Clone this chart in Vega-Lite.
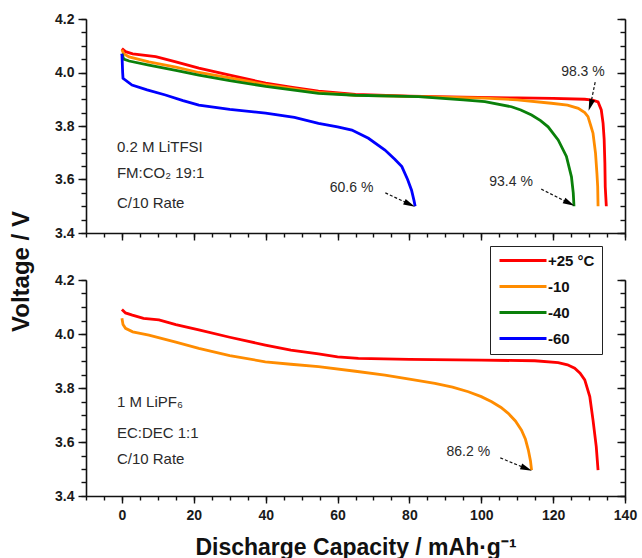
{
  "$schema": "https://vega.github.io/schema/vega-lite/v6.json",
  "background": "white",
  "padding": {"left": 9, "top": 12, "right": 10, "bottom": 0},
  "bounds": "flush",
  "spacing": 47,
  "config": {
    "view": {"stroke": null},
    "font": "Liberation Sans",
    "axis": {
      "domainColor": "#111",
      "domainWidth": 1.6,
      "tickColor": "#111",
      "tickWidth": 1.4,
      "labelFont": "Liberation Sans",
      "labelFontWeight": "bold",
      "labelFontSize": 14,
      "labelColor": "#1a1a1a",
      "grid": false,
      "labelOverlap": false,
      "labelFlush": false
    }
  },
  "datasets": {
    "top": [
      {"x": 0, "v": 4.09, "s": "+25 °C"}, {"x": 1, "v": 4.078, "s": "+25 °C"}, {"x": 3, "v": 4.07, "s": "+25 °C"}, {"x": 9.4, "v": 4.059, "s": "+25 °C"}, {"x": 15, "v": 4.04, "s": "+25 °C"}, {"x": 21.4, "v": 4.016, "s": "+25 °C"}, {"x": 30, "v": 3.99, "s": "+25 °C"}, {"x": 40, "v": 3.96, "s": "+25 °C"}, {"x": 47, "v": 3.945, "s": "+25 °C"}, {"x": 54.7, "v": 3.93, "s": "+25 °C"}, {"x": 65, "v": 3.918, "s": "+25 °C"}, {"x": 80, "v": 3.912, "s": "+25 °C"}, {"x": 95, "v": 3.908, "s": "+25 °C"}, {"x": 110, "v": 3.905, "s": "+25 °C"}, {"x": 120, "v": 3.903, "s": "+25 °C"}, {"x": 128.8, "v": 3.9, "s": "+25 °C"}, {"x": 131, "v": 3.897, "s": "+25 °C"}, {"x": 132.5, "v": 3.89, "s": "+25 °C"}, {"x": 133.4, "v": 3.86, "s": "+25 °C"}, {"x": 133.9, "v": 3.81, "s": "+25 °C"}, {"x": 134.2, "v": 3.75, "s": "+25 °C"}, {"x": 134.4, "v": 3.66, "s": "+25 °C"}, {"x": 134.5, "v": 3.573, "s": "+25 °C"}, {"x": 134.8, "v": 3.5, "s": "+25 °C"},
      {"x": 0, "v": 4.085, "s": "-10"}, {"x": 0.5, "v": 4.07, "s": "-10"}, {"x": 2, "v": 4.058, "s": "-10"}, {"x": 7.5, "v": 4.04, "s": "-10"}, {"x": 15, "v": 4.02, "s": "-10"}, {"x": 21.4, "v": 4.0, "s": "-10"}, {"x": 30, "v": 3.98, "s": "-10"}, {"x": 40, "v": 3.955, "s": "-10"}, {"x": 54.7, "v": 3.926, "s": "-10"}, {"x": 65, "v": 3.915, "s": "-10"}, {"x": 80, "v": 3.911, "s": "-10"}, {"x": 95, "v": 3.906, "s": "-10"}, {"x": 101, "v": 3.904, "s": "-10"}, {"x": 110, "v": 3.898, "s": "-10"}, {"x": 119.5, "v": 3.885, "s": "-10"}, {"x": 124, "v": 3.878, "s": "-10"}, {"x": 127, "v": 3.866, "s": "-10"}, {"x": 128.8, "v": 3.85, "s": "-10"}, {"x": 129.7, "v": 3.835, "s": "-10"}, {"x": 130.5, "v": 3.8, "s": "-10"}, {"x": 131.1, "v": 3.773, "s": "-10"}, {"x": 131.8, "v": 3.698, "s": "-10"}, {"x": 132.2, "v": 3.62, "s": "-10"}, {"x": 132.4, "v": 3.573, "s": "-10"}, {"x": 132.5, "v": 3.5, "s": "-10"},
      {"x": 0, "v": 4.07, "s": "-40"}, {"x": 0.5, "v": 4.05, "s": "-40"}, {"x": 2, "v": 4.043, "s": "-40"}, {"x": 7.5, "v": 4.028, "s": "-40"}, {"x": 15, "v": 4.008, "s": "-40"}, {"x": 21.4, "v": 3.99, "s": "-40"}, {"x": 30, "v": 3.97, "s": "-40"}, {"x": 40, "v": 3.948, "s": "-40"}, {"x": 54.7, "v": 3.922, "s": "-40"}, {"x": 65, "v": 3.915, "s": "-40"}, {"x": 82.5, "v": 3.91, "s": "-40"}, {"x": 95, "v": 3.898, "s": "-40"}, {"x": 101, "v": 3.891, "s": "-40"}, {"x": 108.4, "v": 3.872, "s": "-40"}, {"x": 111, "v": 3.86, "s": "-40"}, {"x": 114, "v": 3.841, "s": "-40"}, {"x": 116.5, "v": 3.82, "s": "-40"}, {"x": 118.6, "v": 3.797, "s": "-40"}, {"x": 121.4, "v": 3.748, "s": "-40"}, {"x": 123.7, "v": 3.686, "s": "-40"}, {"x": 125.1, "v": 3.61, "s": "-40"}, {"x": 125.6, "v": 3.55, "s": "-40"}, {"x": 125.8, "v": 3.5, "s": "-40"},
      {"x": 0, "v": 4.07, "s": "-60"}, {"x": 0.2, "v": 4.0, "s": "-60"}, {"x": 0.3, "v": 3.978, "s": "-60"}, {"x": 2.8, "v": 3.953, "s": "-60"}, {"x": 7, "v": 3.935, "s": "-60"}, {"x": 12.1, "v": 3.916, "s": "-60"}, {"x": 17, "v": 3.895, "s": "-60"}, {"x": 21.4, "v": 3.878, "s": "-60"}, {"x": 30, "v": 3.862, "s": "-60"}, {"x": 40, "v": 3.848, "s": "-60"}, {"x": 48, "v": 3.832, "s": "-60"}, {"x": 54.7, "v": 3.81, "s": "-60"}, {"x": 60, "v": 3.797, "s": "-60"}, {"x": 64, "v": 3.785, "s": "-60"}, {"x": 68.6, "v": 3.754, "s": "-60"}, {"x": 73.2, "v": 3.71, "s": "-60"}, {"x": 76, "v": 3.675, "s": "-60"}, {"x": 77.9, "v": 3.648, "s": "-60"}, {"x": 79.5, "v": 3.6, "s": "-60"}, {"x": 80.6, "v": 3.56, "s": "-60"}, {"x": 81.3, "v": 3.52, "s": "-60"}, {"x": 81.6, "v": 3.5, "s": "-60"}
    ],
    "bot": [
      {"x": 0, "v": 4.091, "s": "+25 °C"}, {"x": 1, "v": 4.078, "s": "+25 °C"}, {"x": 2.9, "v": 4.07, "s": "+25 °C"}, {"x": 6, "v": 4.058, "s": "+25 °C"}, {"x": 10.3, "v": 4.052, "s": "+25 °C"}, {"x": 15, "v": 4.035, "s": "+25 °C"}, {"x": 21.4, "v": 4.015, "s": "+25 °C"}, {"x": 30, "v": 3.988, "s": "+25 °C"}, {"x": 39.9, "v": 3.959, "s": "+25 °C"}, {"x": 47, "v": 3.94, "s": "+25 °C"}, {"x": 54.7, "v": 3.926, "s": "+25 °C"}, {"x": 60, "v": 3.915, "s": "+25 °C"}, {"x": 65.8, "v": 3.91, "s": "+25 °C"}, {"x": 80, "v": 3.906, "s": "+25 °C"}, {"x": 100, "v": 3.903, "s": "+25 °C"}, {"x": 114.9, "v": 3.901, "s": "+25 °C"}, {"x": 121.4, "v": 3.894, "s": "+25 °C"}, {"x": 124, "v": 3.886, "s": "+25 °C"}, {"x": 126, "v": 3.873, "s": "+25 °C"}, {"x": 127.5, "v": 3.855, "s": "+25 °C"}, {"x": 128.8, "v": 3.83, "s": "+25 °C"}, {"x": 130.2, "v": 3.768, "s": "+25 °C"}, {"x": 131.1, "v": 3.681, "s": "+25 °C"}, {"x": 132, "v": 3.583, "s": "+25 °C"}, {"x": 132.5, "v": 3.496, "s": "+25 °C"},
      {"x": 0, "v": 4.058, "s": "-10"}, {"x": 0.3, "v": 4.035, "s": "-10"}, {"x": 1, "v": 4.021, "s": "-10"}, {"x": 3, "v": 4.008, "s": "-10"}, {"x": 7.5, "v": 3.996, "s": "-10"}, {"x": 15, "v": 3.97, "s": "-10"}, {"x": 21.4, "v": 3.947, "s": "-10"}, {"x": 30, "v": 3.92, "s": "-10"}, {"x": 39.9, "v": 3.897, "s": "-10"}, {"x": 47, "v": 3.888, "s": "-10"}, {"x": 54.7, "v": 3.879, "s": "-10"}, {"x": 65, "v": 3.862, "s": "-10"}, {"x": 73.2, "v": 3.848, "s": "-10"}, {"x": 80, "v": 3.833, "s": "-10"}, {"x": 87.1, "v": 3.817, "s": "-10"}, {"x": 92, "v": 3.803, "s": "-10"}, {"x": 96.4, "v": 3.786, "s": "-10"}, {"x": 100, "v": 3.768, "s": "-10"}, {"x": 102.9, "v": 3.749, "s": "-10"}, {"x": 105.5, "v": 3.728, "s": "-10"}, {"x": 107.5, "v": 3.706, "s": "-10"}, {"x": 109.5, "v": 3.678, "s": "-10"}, {"x": 111.2, "v": 3.644, "s": "-10"}, {"x": 112.3, "v": 3.61, "s": "-10"}, {"x": 113.1, "v": 3.57, "s": "-10"}, {"x": 113.7, "v": 3.53, "s": "-10"}, {"x": 114, "v": 3.496, "s": "-10"}
    ],
    "labTop": [
      {"x": -1.4, "v": 3.721, "t": "0.2 M LiTFSI", "k": "note"},
      {"x": -1.4, "v": 3.624, "t": "FM:CO₂ 19:1", "k": "note"},
      {"x": -1.4, "v": 3.512, "t": "C/10 Rate", "k": "note"},
      {"x": 128.3, "v": 4.002, "t": "98.3 %", "k": "pct"},
      {"x": 108.3, "v": 3.591, "t": "93.4 %", "k": "pct"},
      {"x": 63.9, "v": 3.568, "t": "60.6 %", "k": "pct"}
    ],
    "labBot": [
      {"x": -1.4, "v": 3.748, "t": "1 M LiPF₆", "k": "note"},
      {"x": -1.4, "v": 3.633, "t": "EC:DEC 1:1", "k": "note"},
      {"x": -1.4, "v": 3.537, "t": "C/10 Rate", "k": "note"},
      {"x": 96.4, "v": 3.563, "t": "86.2 %", "k": "pct"}
    ],
    "arrTop": [
      {"x": 131.7, "v": 3.964, "x2": 130.4, "v2": 3.879, "id": "a"},
      {"x": 116.7, "v": 3.564, "x2": 124.4, "v2": 3.512, "id": "b"},
      {"x": 73.3, "v": 3.55, "x2": 80.0, "v2": 3.508, "id": "c"}
    ],
    "arrBot": [
      {"x": 105.3, "v": 3.541, "x2": 112.5, "v2": 3.502, "id": "d"}
    ]
  },
  "vconcat": [
    {
      "width": 539,
      "height": 214,
      "layer": [
        {
          "data": {"name": "top"},
          "mark": {"type": "line", "strokeWidth": 2.8},
          "encoding": {
            "x": {"field": "x", "type": "quantitative",
              "scale": {"domain": [-10, 140], "nice": false, "zero": false},
              "axis": {"orient": "bottom", "title": null, "labels": false, "values": [0, 20, 40, 60, 80, 100, 120, 140], "tickSize": 7}},
            "y": {"field": "v", "type": "quantitative",
              "scale": {"domain": [3.4, 4.2], "nice": false, "zero": false},
              "axis": {"orient": "left", "title": "Voltage / V", "titleFontSize": 24, "titleFontWeight": "bold", "titleColor": "#111",
                "titleX": -53, "titleY": 252,
                "values": [3.4, 3.6, 3.8, 4.0, 4.2], "format": ".1f", "labelPadding": 4, "tickSize": 8}},
            "color": {"field": "s", "type": "nominal",
              "scale": {"domain": ["+25 °C", "-10", "-40", "-60"], "range": ["#ff0000", "#ff8c00", "#0a800a", "#0000ff"]},
              "legend": {"orient": "none", "legendX": 404, "legendY": 227, "title": null,
                "symbolType": "M-1,0H8.4", "symbolStrokeWidth": 3, "symbolSize": 100,
                "labelFontSize": 15, "labelFontWeight": "bold", "labelFont": "Liberation Sans", "labelColor": "#111",
                "strokeColor": "#222", "padding": 7, "rowPadding": 10, "labelOffset": 36, "fillColor": "white"}}
          }
        },
        {
          "data": {"name": "top"},
          "mark": {"type": "point", "opacity": 0},
          "encoding": {
            "x": {"field": "x", "type": "quantitative",
              "axis": {"orient": "bottom", "title": null, "labels": false, "domain": false, "tickSize": 4,
                "values": [-10,-5,0,5,10,15,20,25,30,35,40,45,50,55,60,65,70,75,80,85,90,95,100,105,110,115,120,125,130,135,140]}},
            "y": {"field": "v", "type": "quantitative",
              "axis": {"orient": "left", "title": null, "labels": false, "domain": false, "tickSize": 5,
                "values": [3.4,3.45,3.5,3.55,3.6,3.65,3.7,3.75,3.8,3.85,3.9,3.95,4.0,4.05,4.1,4.15,4.2]}}
          }
        },
        {
          "data": {"name": "top"},
          "mark": {"type": "point", "opacity": 0},
          "encoding": {
            "x": {"field": "x", "type": "quantitative", "axis": null},
            "y": {"field": "v", "type": "quantitative",
              "axis": {"orient": "right", "title": null, "labels": false, "tickSize": -8, "values": [3.4, 3.6, 3.8, 4.0, 4.2]}}
          }
        },
        {
          "data": {"name": "top"},
          "mark": {"type": "point", "opacity": 0},
          "encoding": {
            "x": {"field": "x", "type": "quantitative", "axis": null},
            "y": {"field": "v", "type": "quantitative",
              "axis": {"orient": "right", "title": null, "labels": false, "domain": false, "tickSize": -5,
                "values": [3.4,3.45,3.5,3.55,3.6,3.65,3.7,3.75,3.8,3.85,3.9,3.95,4.0,4.05,4.1,4.15,4.2]}}
          }
        },
        {
          "data": {"name": "labTop"},
          "transform": [{"filter": "datum.k == 'note'"}],
          "mark": {"type": "text", "align": "left", "baseline": "middle", "fontSize": 15, "font": "Liberation Sans", "color": "#2a2a2a"},
          "encoding": {
            "x": {"field": "x", "type": "quantitative", "axis": null},
            "y": {"field": "v", "type": "quantitative", "axis": null},
            "text": {"field": "t"}
          }
        },
        {
          "data": {"name": "labTop"},
          "transform": [{"filter": "datum.k == 'pct'"}],
          "mark": {"type": "text", "align": "center", "baseline": "middle", "fontSize": 14, "font": "Liberation Sans", "color": "#2a2a2a"},
          "encoding": {
            "x": {"field": "x", "type": "quantitative", "axis": null},
            "y": {"field": "v", "type": "quantitative", "axis": null},
            "text": {"field": "t"}
          }
        },
        {
          "data": {"name": "arrTop"},
          "mark": {"type": "rule", "strokeDash": [3, 2], "strokeWidth": 1.2, "color": "#111"},
          "encoding": {
            "x": {"field": "x", "type": "quantitative", "axis": null},
            "y": {"field": "v", "type": "quantitative", "axis": null},
            "x2": {"field": "x2"},
            "y2": {"field": "v2"}
          }
        },
        {
          "data": {"name": "arrTop"},
          "transform": [{"filter": "datum.id == 'a'"}],
          "mark": {"type": "point", "shape": "M0,-1L0.5,0.9L-0.5,0.9Z", "filled": true, "size": 150, "color": "#000", "opacity": 1, "angle": 198},
          "encoding": {
            "x": {"field": "x2", "type": "quantitative", "axis": null},
            "y": {"field": "v2", "type": "quantitative", "axis": null}
          }
        },
        {
          "data": {"name": "arrTop"},
          "transform": [{"filter": "datum.id == 'b'"}],
          "mark": {"type": "point", "shape": "M0,-1L0.5,0.9L-0.5,0.9Z", "filled": true, "size": 150, "color": "#000", "opacity": 1, "angle": 117},
          "encoding": {
            "x": {"field": "x2", "type": "quantitative", "axis": null},
            "y": {"field": "v2", "type": "quantitative", "axis": null}
          }
        },
        {
          "data": {"name": "arrTop"},
          "transform": [{"filter": "datum.id == 'c'"}],
          "mark": {"type": "point", "shape": "M0,-1L0.5,0.9L-0.5,0.9Z", "filled": true, "size": 150, "color": "#000", "opacity": 1, "angle": 115},
          "encoding": {
            "x": {"field": "x2", "type": "quantitative", "axis": null},
            "y": {"field": "v2", "type": "quantitative", "axis": null}
          }
        }
      ],
      "resolve": {"axis": {"x": "independent", "y": "independent"}}
    },
    {
      "width": 539,
      "height": 216,
      "layer": [
        {
          "data": {"name": "bot"},
          "mark": {"type": "line", "strokeWidth": 2.8},
          "encoding": {
            "x": {"field": "x", "type": "quantitative",
              "scale": {"domain": [-10, 140], "nice": false, "zero": false},
              "axis": {"orient": "bottom", "title": "Discharge Capacity / mAh·g⁻¹", "titleFontSize": 23, "titleFontWeight": "bold", "titleColor": "#111", "titlePadding": 14,
                "values": [0, 20, 40, 60, 80, 100, 120, 140], "labelPadding": 5, "tickSize": 7}},
            "y": {"field": "v", "type": "quantitative",
              "scale": {"domain": [3.4, 4.2], "nice": false, "zero": false},
              "axis": {"orient": "left", "title": null, "values": [3.4, 3.6, 3.8, 4.0, 4.2], "format": ".1f", "labelPadding": 4, "tickSize": 8}},
            "color": {"field": "s", "type": "nominal"}
          }
        },
        {
          "data": {"name": "bot"},
          "mark": {"type": "point", "opacity": 0},
          "encoding": {
            "x": {"field": "x", "type": "quantitative",
              "axis": {"orient": "bottom", "title": null, "labels": false, "domain": false, "tickSize": 4,
                "values": [-10,-5,0,5,10,15,20,25,30,35,40,45,50,55,60,65,70,75,80,85,90,95,100,105,110,115,120,125,130,135,140]}},
            "y": {"field": "v", "type": "quantitative",
              "axis": {"orient": "left", "title": null, "labels": false, "domain": false, "tickSize": 5,
                "values": [3.4,3.45,3.5,3.55,3.6,3.65,3.7,3.75,3.8,3.85,3.9,3.95,4.0,4.05,4.1,4.15,4.2]}}
          }
        },
        {
          "data": {"name": "bot"},
          "mark": {"type": "point", "opacity": 0},
          "encoding": {
            "x": {"field": "x", "type": "quantitative", "axis": null},
            "y": {"field": "v", "type": "quantitative",
              "axis": {"orient": "right", "title": null, "labels": false, "tickSize": -8, "values": [3.4, 3.6, 3.8, 4.0, 4.2]}}
          }
        },
        {
          "data": {"name": "bot"},
          "mark": {"type": "point", "opacity": 0},
          "encoding": {
            "x": {"field": "x", "type": "quantitative", "axis": null},
            "y": {"field": "v", "type": "quantitative",
              "axis": {"orient": "right", "title": null, "labels": false, "domain": false, "tickSize": -5,
                "values": [3.4,3.45,3.5,3.55,3.6,3.65,3.7,3.75,3.8,3.85,3.9,3.95,4.0,4.05,4.1,4.15,4.2]}}
          }
        },
        {
          "data": {"name": "labBot"},
          "transform": [{"filter": "datum.k == 'note'"}],
          "mark": {"type": "text", "align": "left", "baseline": "middle", "fontSize": 15, "font": "Liberation Sans", "color": "#2a2a2a"},
          "encoding": {
            "x": {"field": "x", "type": "quantitative", "axis": null},
            "y": {"field": "v", "type": "quantitative", "axis": null},
            "text": {"field": "t"}
          }
        },
        {
          "data": {"name": "labBot"},
          "transform": [{"filter": "datum.k == 'pct'"}],
          "mark": {"type": "text", "align": "center", "baseline": "middle", "fontSize": 14, "font": "Liberation Sans", "color": "#2a2a2a"},
          "encoding": {
            "x": {"field": "x", "type": "quantitative", "axis": null},
            "y": {"field": "v", "type": "quantitative", "axis": null},
            "text": {"field": "t"}
          }
        },
        {
          "data": {"name": "arrBot"},
          "mark": {"type": "rule", "strokeDash": [3, 2], "strokeWidth": 1.2, "color": "#111"},
          "encoding": {
            "x": {"field": "x", "type": "quantitative", "axis": null},
            "y": {"field": "v", "type": "quantitative", "axis": null},
            "x2": {"field": "x2"},
            "y2": {"field": "v2"}
          }
        },
        {
          "data": {"name": "arrBot"},
          "mark": {"type": "point", "shape": "M0,-1L0.5,0.9L-0.5,0.9Z", "filled": true, "size": 150, "color": "#000", "opacity": 1, "angle": 112},
          "encoding": {
            "x": {"field": "x2", "type": "quantitative", "axis": null},
            "y": {"field": "v2", "type": "quantitative", "axis": null}
          }
        }
      ],
      "resolve": {"axis": {"x": "independent", "y": "independent"}}
    }
  ]
}
